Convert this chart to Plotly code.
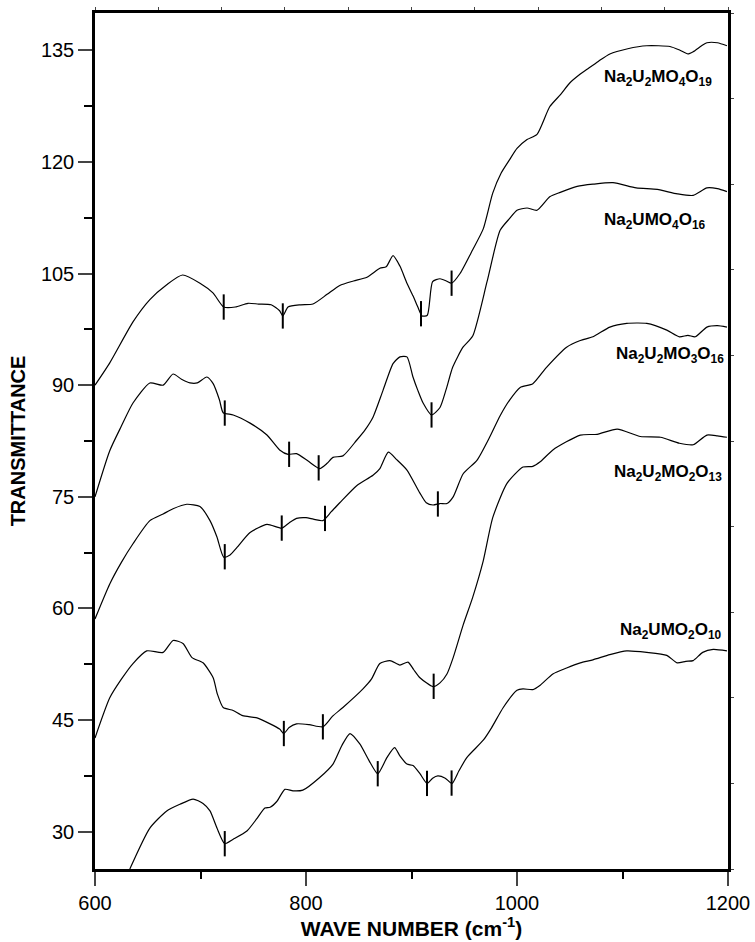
import numpy as np
import plotly.graph_objects as go

# ---- data ----
wn1 = [600, 614, 636, 652, 668, 683, 699.5, 711.8, 722, 733, 745, 755, 767, 775, 778, 783, 795, 806.6,
       820, 832, 845, 857.8, 870, 876, 882.5, 889, 895.7, 901.4, 906, 910, 915, 920, 927, 933, 938,
       946, 958, 968, 977, 985, 993, 1000, 1009.5, 1019, 1031, 1041, 1050, 1060, 1066, 1077, 1088,
       1105, 1123, 1145, 1154.5, 1162, 1167, 1175, 1180, 1190, 1199]
t1 = [90, 93, 98.5, 101.5, 103.5, 104.8, 103.7, 102.4, 100.5, 100.5, 101, 100.9, 100.8, 100, 99.3, 100.5, 100.8, 100.9,
      102.2, 103.4, 104, 104.5, 105.7, 105.9, 107.4, 106, 103.7, 102, 100.5, 99.3, 99.4, 103.9, 104.3, 104, 103.7,
      105, 108.2, 111, 115.8, 118.5, 120.3, 121.8, 123, 123.7, 127.4, 129, 130.6, 131.8, 132.4, 133.5, 134.5,
      135.2, 135.6, 135.5, 135, 134.5, 134.8, 135.6, 136, 136, 135.6]

wn2 = [600, 614, 625, 636, 652, 664.6, 674, 682, 690, 697, 706, 712, 718, 721.5, 731, 747, 763, 775, 783, 791,
       802, 813, 820, 825.6, 835, 848, 856, 863.5, 873, 882.5, 889, 895.7, 901.4, 906, 911, 919, 927, 933,
       939, 948.8, 958, 971.6, 984, 993, 1000, 1009.5, 1019, 1031, 1041, 1057, 1072, 1091, 1113, 1133, 1152,
       1167, 1180, 1190, 1199]
t2 = [75, 81.2, 84.5, 87.6, 90.3, 90, 91.5, 90.8, 90.3, 90.3, 91.1, 90.2, 88, 86.3, 86, 84.9, 83.3, 81.3, 80.7, 80.8,
      79.8, 78.8, 79.5, 80.3, 80.5, 82.6, 84, 85.7, 89.3, 92.9, 93.8, 93.8, 91.1, 89.3, 87.6, 86, 87, 89.5,
      92.4, 95.1, 96.6, 103.9, 110.8, 112.4, 113.5, 113.8, 113.5, 115.3, 115.9, 116.7, 117, 117.2, 116.5, 116.3, 115.7,
      115.5, 116.5, 116.4, 116]

wn3 = [600, 614, 625, 636, 652, 664.6, 674, 687, 699.5, 709, 715.6, 722, 728, 734.6, 747, 763, 777, 784, 791,
       800, 807, 816, 824, 832, 848, 863.5, 870, 878, 886, 895.7, 908, 914, 920.4, 927, 933.6, 939.5, 949, 962,
       974, 984, 993, 1003, 1015, 1028, 1047, 1060, 1072, 1088, 1104, 1123, 1142, 1154, 1162, 1169, 1180, 1190, 1199]
t3 = [58.6, 63.3, 66.2, 68.7, 71.8, 72.7, 73.4, 74, 73.7, 71.8, 69.6, 66.9, 67.2, 68.2, 70.2, 71.3, 70.8, 71.5, 72.1,
      72.2, 72, 71.8, 73, 74.2, 76.5, 77.9, 78.8, 81, 80, 78.6, 75.5, 74.2, 73.9, 74.1, 74.1, 75, 78.1, 79.9,
      83, 85.9, 88, 89.7, 90.2, 92.4, 95.1, 96, 96.5, 97.8, 98.3, 98.3, 97.4, 96.5, 96.7, 96.5, 97.8, 98, 97.8]

wn4 = [600, 614, 625, 636, 649, 664.6, 674, 683.4, 692, 702.4, 712, 716, 721.5, 731, 740, 753.6, 766, 775, 779,
       784, 791, 803, 816, 825, 835, 854, 862, 870, 879.6, 889, 896.7, 902, 908, 920.4, 927, 933.6, 939.5, 949,
       958, 968, 977, 990.5, 1005.7, 1015, 1022, 1034, 1060, 1076, 1095, 1117, 1136, 1154, 1167, 1180, 1190, 1199]
t4 = [42.6, 48, 50.5, 52.6, 54.3, 54.1, 55.7, 55.3, 53.4, 52.7, 50.7, 48.5, 46.7, 46.3, 45.6, 45.3, 44.5, 43.8, 43.2,
      44, 44.5, 44.4, 44.1, 45.5, 46.7, 49.2, 50.5, 52.6, 53, 52.4, 52.8, 51.8, 50.7, 49.5, 50, 51.2, 53.4, 57.8,
      61.5, 66.4, 72.2, 76.8, 79, 79.1, 79.7, 81.3, 83.3, 83.4, 84.1, 83.1, 83, 82.2, 82, 83.3, 83.2, 83]

wn5 = [633, 652, 668, 680.6, 693, 702.4, 709, 715.6, 723, 731, 744, 753.6, 761, 766, 772.5, 780, 787.7, 797,
       813, 825.6, 834, 841.7, 851, 860, 868, 876.8, 884, 889, 895.7, 901.5, 908, 914.7, 920, 925, 932, 938.4,
       945, 952.6, 968, 976, 987, 1000, 1005.7, 1015, 1022, 1034, 1047, 1060, 1072, 1088, 1104, 1123, 1142,
       1151.7, 1160, 1167, 1176, 1186, 1199]
t5 = [25, 30.5, 32.8, 33.7, 34.4, 33.8, 32.8, 30.5, 28.4, 29, 30.1, 31.8, 33.2, 33.3, 34.1, 35.7, 35.5, 35.6,
      37.3, 39.1, 41.6, 43.2, 41.8, 39.5, 37.8, 40, 41.3, 40.2, 39.1, 38.9, 37.8, 36.5, 37.2, 37.5, 37.2, 36.5,
      38.2, 40, 42.3, 44, 46.7, 49, 49.2, 49.1, 49.7, 51.2, 52, 52.7, 53.1, 53.8, 54.3, 54.1, 53.7,
      52.7, 52.9, 53, 54.1, 54.5, 54.3]

marks1 = [722, 778, 909, 938]
marks2 = [723, 784, 812, 919]
marks3 = [723, 777, 818, 925]
marks4 = [779, 816, 921]
marks5 = [723, 868, 914.7, 938]

labels = ["Na<sub>2</sub>U<sub>2</sub>MO<sub>4</sub>O<sub>19</sub>",
          "Na<sub>2</sub>UMO<sub>4</sub>O<sub>16</sub>",
          "Na<sub>2</sub>U<sub>2</sub>MO<sub>3</sub>O<sub>16</sub>",
          "Na<sub>2</sub>U<sub>2</sub>MO<sub>2</sub>O<sub>13</sub>",
          "Na<sub>2</sub>UMO<sub>2</sub>O<sub>10</sub>"]
label_x = [1187, 1181, 1198, 1196, 1196]
label_y = [131.3, 112.0, 94.0, 78.2, 57.0]

x_major = [600, 800, 1000, 1200]
y_major = [30, 45, 60, 75, 90, 105, 120, 135]

FONT = "Liberation Sans, Arial, Helvetica, sans-serif"

fig = go.Figure()
series = [(wn1, t1, marks1), (wn2, t2, marks2), (wn3, t3, marks3), (wn4, t4, marks4), (wn5, t5, marks5)]
half = 1.7
for wn, t, marks in series:
    fig.add_trace(go.Scatter(x=wn, y=t, mode="lines", line=dict(color="black", width=1.2, shape="spline", smoothing=0.6),
                             showlegend=False, hoverinfo="skip"))
    mx, my = [], []
    for m in marks:
        yv = float(np.interp(m, wn, t))
        mx += [m, m, None]
        my += [yv - half, yv + half, None]
    fig.add_trace(go.Scatter(x=mx, y=my, mode="lines", line=dict(color="black", width=2),
                             showlegend=False, hoverinfo="skip"))

for txt, lx, ly in zip(labels, label_x, label_y):
    fig.add_annotation(x=lx, y=ly, xref="x", yref="y", text="<b>" + txt + "</b>", showarrow=False,
                       xanchor="right", yanchor="middle", font=dict(family=FONT, size=17, color="black"))

# invisible trace on secondary axes so they render
fig.add_trace(go.Scatter(x=[0], y=[0], xaxis="x2", yaxis="y2", mode="markers",
                         marker=dict(opacity=0), showlegend=False, hoverinfo="skip"))

fig.update_layout(
    width=755, height=942,
    margin=dict(l=95, r=27, t=13, b=73, autoexpand=False),
    paper_bgcolor="white", plot_bgcolor="white",
    font=dict(family=FONT, color="black"),
    xaxis=dict(range=[600, 1200], tickvals=x_major, ticks="outside", ticklen=14, tickwidth=2,
               showline=True, linewidth=2.5, linecolor="black", showgrid=False, zeroline=False, automargin=False,
               tickfont=dict(size=20, family=FONT),
               minor=dict(dtick=100, tick0=600, ticks="outside", ticklen=7, tickwidth=2, tickcolor="black", showgrid=False),
               title=dict(text="<b>WAVE NUMBER (cm<sup>-1</sup>)</b>", font=dict(size=21, family=FONT), standoff=6)),
    yaxis=dict(range=[25, 140], tickvals=y_major, ticks="outside", ticklen=14, tickwidth=2,
               showline=True, linewidth=2.5, linecolor="black", showgrid=False, zeroline=False, automargin=False,
               tickfont=dict(size=20, family=FONT),
               minor=dict(dtick=7.5, tick0=30, ticks="outside", ticklen=8, tickwidth=2, tickcolor="black", showgrid=False),
               title=dict(text="<b>TRANSMITTANCE</b>", font=dict(size=20, family=FONT), standoff=10)),
    xaxis2=dict(range=[0, 10], overlaying="x", side="top", dtick=1, ticks="outside", ticklen=3, tickwidth=1,
                automargin=False,
                showticklabels=False, showline=True, linewidth=2.5, linecolor="black", showgrid=False, zeroline=False),
    yaxis2=dict(range=[0, 10], overlaying="y", side="right", dtick=1, ticks="outside", ticklen=3, tickwidth=1,
                automargin=False,
                showticklabels=False, showline=True, linewidth=2.5, linecolor="black", showgrid=False, zeroline=False),
)

# remove the default page margin so the 755x942 figure fills the window exactly
fig.write_html("out.html", config={"displayModeBar": False},
               post_script="document.body.style.margin='0';document.body.style.overflow='hidden';")
